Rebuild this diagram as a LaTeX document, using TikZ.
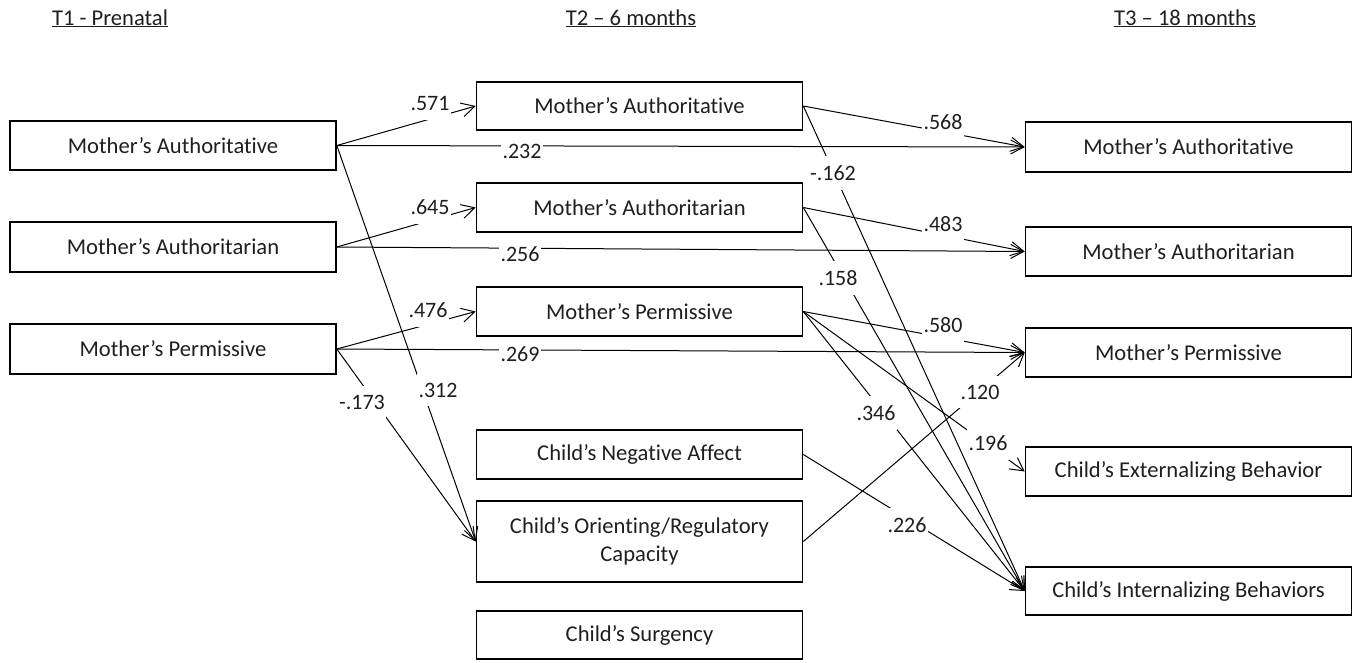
\documentclass[tikz,border=0pt]{standalone}
\usepackage{fontspec}
\setmainfont{Carlito}[Ligatures=NoCommon]
\usetikzlibrary{arrows.meta}
\begin{document}
\begin{tikzpicture}[x=1pt,y=-1pt,
  box/.style={draw, line width=1.6pt, minimum width=326pt, minimum height=49pt, inner sep=0pt, align=center, font=\fontsize{22.6}{27.5}\selectfont, text=black!88},
  conn/.style={line width=1pt, -{Straight Barb[length=13pt,width=14pt,line width=1pt]}},
  lbl/.style={fill=white, inner xsep=1.5pt, inner ysep=9pt, font=\fontsize{22}{26}\selectfont, text=black!88},
  hdr/.style={anchor=base, font=\fontsize{22.6}{26}\selectfont, text=black!88}]
\useasboundingbox (0,0) rectangle (1360,662);
% headers
\node[hdr] (h1) at (110,25) {\underline{T1 - Prenatal}};
\node[hdr] (h2) at (631,25) {\underline{T2 – 6 months}};
\node[hdr] (h3) at (1185,25) {\underline{T3 – 18 months}};
% left column
\node[box] (L1) at (173,145.5) {Mother’s Authoritative};
\node[box, minimum height=50pt] (L2) at (173,247) {Mother’s Authoritarian};
\node[box, minimum height=50pt] (L3) at (173,349) {Mother’s Permissive};
% middle column
\node[box, minimum height=48pt] (M1) at (639.5,106) {Mother’s Authoritative};
\node[box] (M2) at (639.5,207.5) {Mother’s Authoritarian};
\node[box] (M3) at (639.5,311.5) {Mother’s Permissive};
\node[box] (M4) at (639.5,454.5) {Child’s Negative Affect};
\node[box, minimum height=81pt] (M5) at (639.5,541.5) {Child’s Orienting/Regulatory\\Capacity};
\node[box, minimum height=48pt] (M6) at (639.5,635) {Child’s Surgency};
% right column
\node[box, minimum height=50pt] (R1) at (1188.5,147) {Mother’s Authoritative};
\node[box] (R2) at (1188.5,251.5) {Mother’s Authoritarian};
\node[box] (R3) at (1188.5,352.5) {Mother’s Permissive};
\node[box] (R4) at (1188.5,471.5) {Child’s Externalizing Behavior};
\node[box, minimum height=48pt] (R5) at (1188.5,591) {Child’s Internalizing Behaviors};
% connectors
\draw[conn] (L1.east) -- (M1.west);
\draw[conn] (L1.east) -- (R1.west);
\draw[conn] (L1.east) -- (M5.west);
\draw[conn] (L2.east) -- (M2.west);
\draw[conn] (L2.east) -- (R2.west);
\draw[conn] (L3.east) -- (M3.west);
\draw[conn] (L3.east) -- (R3.west);
\draw[conn] (L3.east) -- (M5.west);
\draw[conn] (M1.east) -- (R1.west);
\draw[conn] (M1.east) -- (R5.west);
\draw[conn] (M2.east) -- (R2.west);
\draw[conn] (M2.east) -- (R5.west);
\draw[conn] (M3.east) -- (R3.west);
\draw[conn] (M3.east) -- (R4.west);
\draw[conn] (M3.east) -- (R5.west);
\draw[conn] (M4.east) -- (R5.west);
\draw[conn] (M5.east) -- (R3.west);
% labels
\node[lbl] (a571) at (430,104) {.571};
\node[lbl] (a232) at (522,151) {.232};
\node[lbl] (a312) at (438,390) {.312};
\node[lbl] (a173) at (362,402) {-.173};
\node[lbl] (a645) at (430,207) {.645};
\node[lbl] (a256) at (520,254) {.256};
\node[lbl] (a476) at (428,310) {.476};
\node[lbl] (a269) at (520,354) {.269};
\node[lbl] (a568) at (943,122) {.568};
\node[lbl] (a162) at (833,173) {-.162};
\node[lbl] (a483) at (943,224) {.483};
\node[lbl] (a158) at (838,278) {.158};
\node[lbl] (a580) at (943,325) {.580};
\node[lbl] (a196) at (988,443) {.196};
\node[lbl] (a346) at (876,413) {.346};
\node[lbl] (a120) at (980,392) {.120};
\node[lbl] (a226) at (907,525) {.226};
\end{tikzpicture}
\end{document}
